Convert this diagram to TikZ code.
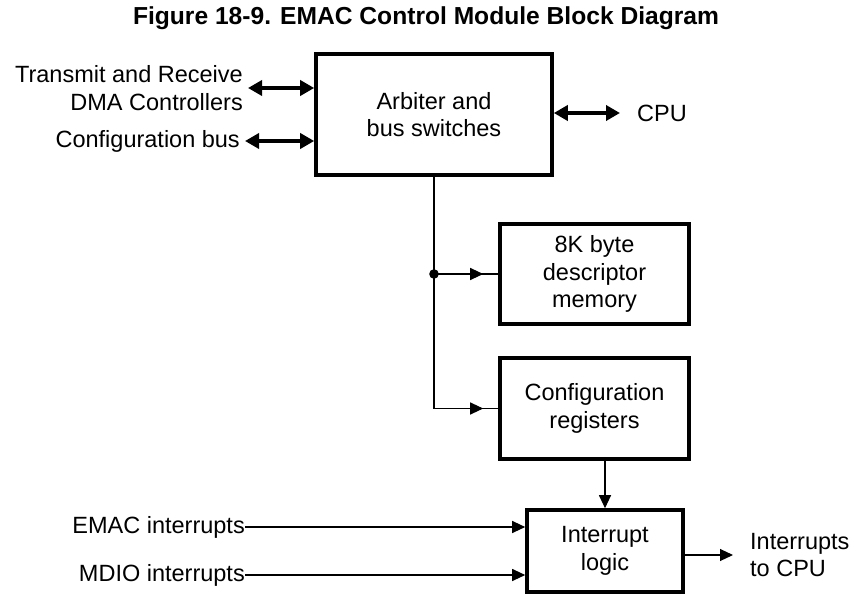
\documentclass[tikz,border=0pt]{standalone}
\usepackage{fontspec}
\setmainfont{Liberation Sans}
\usetikzlibrary{arrows.meta}
\begin{document}
\begin{tikzpicture}
% EMAC control module block diagram
\def\txtsz{\fontsize{23.5}{27.5}\selectfont}
\def\ttlsz{\fontsize{24.6}{29}\selectfont}
\providecommand{\emacBoxLineWidth}{3.6pt}
\providecommand{\emacBusLineWidth}{4.6pt}
\providecommand{\emacWireLineWidth}{1.1pt}
\begin{scope}[x=1pt, y=-1pt, line cap=butt, line join=miter,
  blk/.style={draw, line width=\emacBoxLineWidth, align=center, font=\txtsz, inner sep=0pt},
  lbl/.style={font=\txtsz, inner sep=0pt},
  bus/.style={line width=\emacBusLineWidth, {Triangle[length=14pt,width=15pt]}-{Triangle[length=14pt,width=15pt]}},
  wire/.style={line width=\emacWireLineWidth},
  tip/.style={wire, -{Triangle[length=13pt,width=12pt]}}]
  % Frame
  \useasboundingbox (0,0) rectangle (851,594);
  % Title
  \node[font=\bfseries\ttlsz, inner sep=0pt] (title) at (426,18) {Figure 18-9. EMAC Control Module Block Diagram};
  % Blocks
  \node[blk, minimum width=236pt, minimum height=121pt] (arb) at (434,114.5) {Arbiter and\\bus switches};
  \node[blk, minimum width=189pt, minimum height=100pt] (mem) at (594.5,274) {8K byte\\descriptor\\memory};
  \node[blk, minimum width=189pt, minimum height=101pt] (cfg) at (594.5,408.5) {Configuration\\registers};
  \node[blk, minimum width=156pt, minimum height=82pt] (intr) at (605,551) {Interrupt\\logic};
  % Outside labels
  \node[lbl, anchor=east, align=right] (dma) at (243,88) {Transmit and Receive\\DMA Controllers};
  \node[lbl, anchor=east] (cfgbus) at (240,141) {Configuration bus};
  \node[lbl, anchor=west] (cpu) at (637,113) {CPU};
  \node[lbl, anchor=east] (emac) at (245,527) {EMAC interrupts};
  \node[lbl, anchor=east] (mdio) at (245,575) {MDIO interrupts};
  \node[lbl, anchor=west, align=left] (tocpu) at (750,555) {Interrupts\\to CPU};
  % Bus connections
  \draw[bus] ([xshift=5pt]dma.east) -- (dma.east -| arb.west);
  \draw[bus] ([xshift=5pt]cfgbus.east) -- (cfgbus.east -| arb.west);
  \draw[bus] (arb.east |- cpu.west) -- ([xshift=-17pt]cpu.west);
  % Internal trunk
  \coordinate (tap) at (arb.south |- mem.west);
  \coordinate (bend) at (arb.south |- cfg.west);
  \draw[wire] (arb.south) -- (bend) -- (cfg.west);
  \draw[wire] (tap) -- (mem.west);
  \draw[tip] (tap) -- ([xshift=-15pt]mem.west);
  \draw[tip] (bend) -- ([xshift=-15pt]cfg.west);
  \fill (tap) circle (4.8pt);
  % Interrupt paths
  \draw[tip] (intr.north |- cfg.south) -- (intr.north);
  \draw[tip] (emac.east) -- (emac.east -| intr.west);
  \draw[tip] (mdio.east) -- (mdio.east -| intr.west);
  \draw[tip] (intr.east |- tocpu.west) -- ([xshift=-17pt]tocpu.west);
\end{scope}
\end{tikzpicture}
\end{document}
